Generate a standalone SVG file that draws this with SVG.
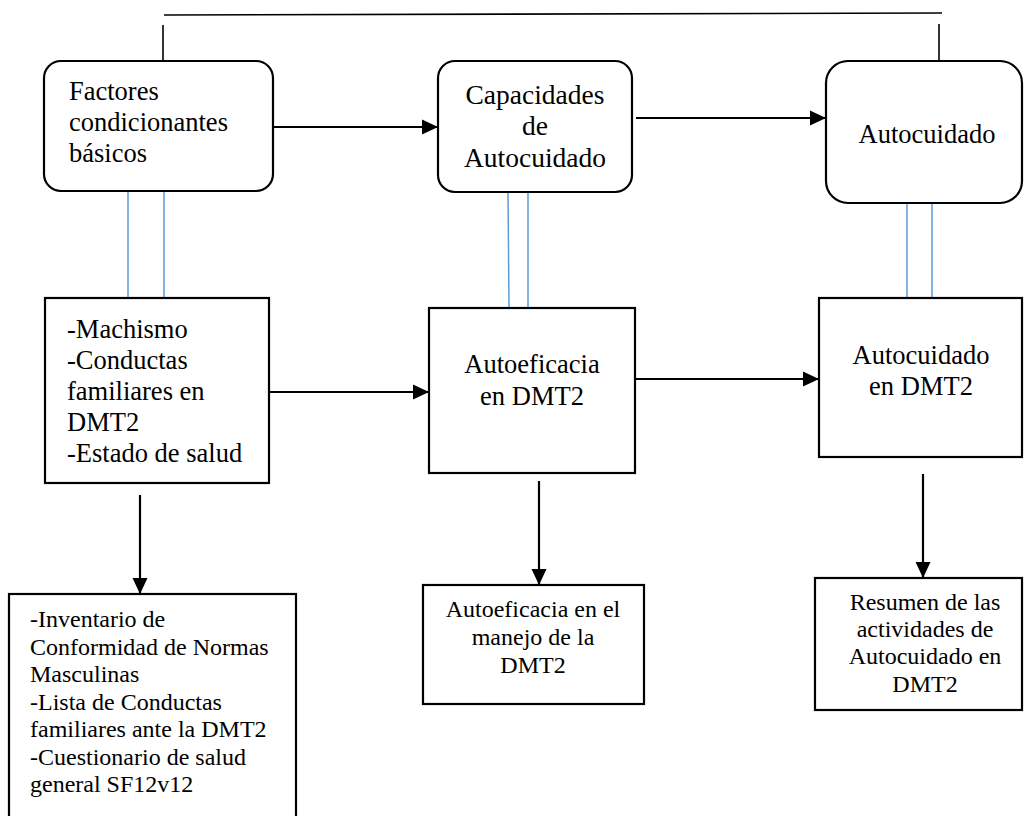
<svg xmlns="http://www.w3.org/2000/svg" width="1032" height="816" viewBox="0 0 1032 816">
<style>
.box{fill:#fff;stroke:#000;stroke-width:2.2}
.t{font-family:"Liberation Serif","Times New Roman",serif;fill:#000}
.big{font-size:26.5px}
.cap{font-size:27.5px}
.sm{font-size:24px}
.c{text-anchor:middle}
.ln{stroke:#000;stroke-width:2.2;fill:none}
.top{stroke:#000;stroke-width:1.6;fill:none}
.blue{stroke:#5b9bd5;stroke-width:1.5;fill:none}
</style>
<defs>
<marker id="ah" markerUnits="userSpaceOnUse" markerWidth="18" markerHeight="18" viewBox="0 0 18 18" refX="16" refY="9" orient="auto">
<path d="M0,1.5 L16,9 L0,16.5 Z" fill="#000"/>
</marker>
</defs>
<rect width="1032" height="816" fill="#fff"/>
<g id="connectors">
<path class="top" d="M164,15 L942,13"/>
<path class="top" d="M163,25 L163,61"/>
<path class="top" d="M939,24 L939,61"/>
<path class="ln" d="M273,127 L438,127" marker-end="url(#ah)"/>
<path class="ln" d="M636,118 L826,118" marker-end="url(#ah)"/>
<path class="ln" d="M269,392 L429,392" marker-end="url(#ah)"/>
<path class="ln" d="M635,379 L819,379" marker-end="url(#ah)"/>
<path class="ln" d="M140,495 L140,594" marker-end="url(#ah)"/>
<path class="ln" d="M539,481 L539,585" marker-end="url(#ah)"/>
<path class="ln" d="M923,474 L923,578" marker-end="url(#ah)"/>
<path class="blue" d="M128,192 L128,298 M164,192 L164,298"/>
<path class="blue" d="M508,192 L509,308 M528,192 L528,308"/>
<path class="blue" d="M907,203 L907,298 M932,203 L932,308"/>
</g>
<g id="factores">
<rect class="box" x="44" y="61" width="229" height="130" rx="17"/>
<text class="t big" x="69" y="100">Factores</text>
<text class="t big" x="69" y="131">condicionantes</text>
<text class="t big" x="69" y="162">básicos</text>
</g>
<g id="capacidades">
<rect class="box" x="438" y="61" width="194" height="131" rx="17"/>
<text class="t cap c" x="535" y="104">Capacidades</text>
<text class="t cap c" x="535" y="135">de</text>
<text class="t cap c" x="535" y="167">Autocuidado</text>
</g>
<g id="autocuidado">
<rect class="box" x="826" y="61" width="196" height="142" rx="22"/>
<text class="t big c" x="927" y="143">Autocuidado</text>
</g>
<g id="machismo">
<rect class="box" x="45" y="298" width="224" height="185"/>
<text class="t big" x="67" y="338">-Machismo</text>
<text class="t big" x="67" y="369">-Conductas</text>
<text class="t big" x="67" y="400">familiares en</text>
<text class="t big" x="67" y="431">DMT2</text>
<text class="t big" x="67" y="462">-Estado de salud</text>
</g>
<g id="autoeficacia">
<rect class="box" x="429" y="308" width="206" height="165"/>
<text class="t big c" x="532" y="373">Autoeficacia</text>
<text class="t big c" x="532" y="405">en DMT2</text>
</g>
<g id="autocuidado-dmt2">
<rect class="box" x="819" y="298" width="203" height="159"/>
<text class="t big c" x="921" y="364">Autocuidado</text>
<text class="t big c" x="921" y="395">en DMT2</text>
</g>
<g id="instrumentos">
<rect class="box" x="9" y="594" width="287" height="240"/>
<text class="t sm" x="30" y="627">-Inventario de</text>
<text class="t sm" x="30" y="655">Conformidad de Normas</text>
<text class="t sm" x="30" y="682">Masculinas</text>
<text class="t sm" x="30" y="710">-Lista de Conductas</text>
<text class="t sm" x="30" y="737">familiares ante la DMT2</text>
<text class="t sm" x="30" y="765">-Cuestionario de salud</text>
<text class="t sm" x="30" y="792">general SF12v12</text>
</g>
<g id="autoeficacia-manejo">
<rect class="box" x="423" y="585" width="221" height="119"/>
<text class="t sm c" x="533" y="617">Autoeficacia en el</text>
<text class="t sm c" x="533" y="645">manejo de la</text>
<text class="t sm c" x="533" y="673">DMT2</text>
</g>
<g id="resumen">
<rect class="box" x="815" y="578" width="207" height="132"/>
<text class="t sm c" x="925" y="610">Resumen de las</text>
<text class="t sm c" x="925" y="637">actividades de</text>
<text class="t sm c" x="925" y="664">Autocuidado en</text>
<text class="t sm c" x="925" y="692">DMT2</text>
</g>
</svg>
